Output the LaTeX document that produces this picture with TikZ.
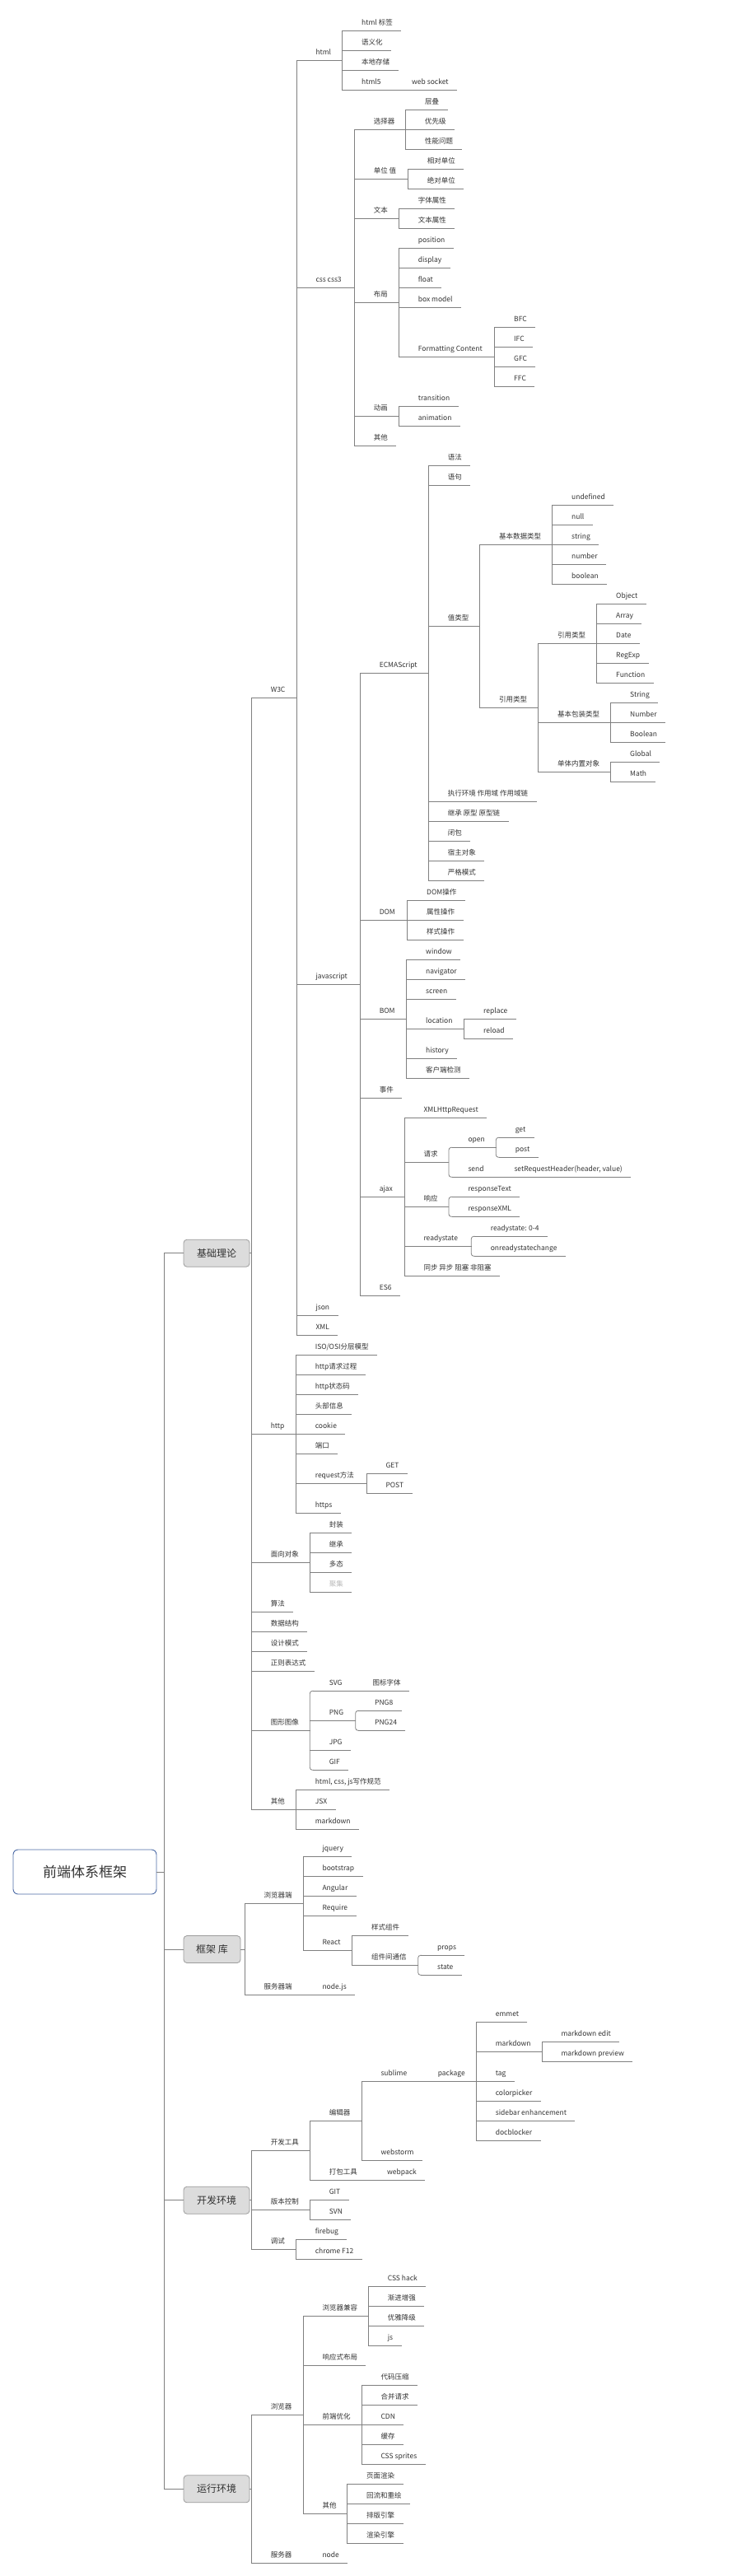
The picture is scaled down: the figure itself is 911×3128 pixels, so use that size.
\documentclass[tikz,border=0pt]{standalone}
\usepackage{fontspec}
\setmainfont{Noto Sans CJK SC}
\usetikzlibrary{calc}
\definecolor{txt}{HTML}{333333}
\definecolor{lc}{HTML}{808080}
\definecolor{boxf}{HTML}{DCDCDC}
\definecolor{boxd}{HTML}{9C9C9C}
\definecolor{rootd}{HTML}{4A69A5}
\definecolor{pale}{HTML}{BBBBBB}

% leaves on one bus: [shift of line start]{bus x}{y/name/text,...}
\newcommand\kids[3][0pt]{\foreach \yy/\nm/\lbl in {#3}{%
    \node[mm] (\nm) at (#2,\yy) {\lbl};
    \draw[ln] ([xshift=#1]\nm.south west) -- (\nm.south east);}}
\newcommand\joinup[3][0pt]{\draw[ln] ([xshift=#1]#2.south west) -- (#2.south west -| #3.south west);}
\newcommand\bus[2]{\draw[ln] (#1.south west) -- (#2.south west);}
\newcommand\rbus[2]{\draw[ln, rounded corners=3pt] ([xshift=4pt]#1.south west) -- (#1.south west) -- (#2.south west) -- ([xshift=4pt]#2.south west);}

\begin{document}
\begin{tikzpicture}[x=1pt,y=-1pt,
    mm/.style={anchor=south west, inner sep=0pt, outer sep=0pt, text=txt,
      font=\fontsize{8.5pt}{10pt}\selectfont, text height=7pt, text depth=6.5pt,
      execute at begin node={\hspace*{23.5pt}}, execute at end node={\hspace*{10pt}}},
    ln/.style={draw=lc, line width=0.8pt, line cap=rect},
    lvone/.style={draw=boxd, fill=boxf, rounded corners=4pt, line width=0.8pt, text=txt,
      minimum width=80pt, minimum height=33pt, inner sep=0pt, font=\fontsize{12pt}{14pt}\selectfont},
    rootbox/.style={draw=rootd, fill=white, rounded corners=6pt, line width=0.9pt, text=txt,
      minimum width=174pt, minimum height=54pt, font=\fontsize{17pt}{20pt}\selectfont}]
  \fill[white] (0,0) rectangle (911,3128);
  \useasboundingbox (0,0) rectangle (911,3128);

  % root and first level
  \node[rootbox] (root) at (103,2273) {前端体系框架};
  \node[lvone] (jc) at (263,1521.7) {基础理论};
  \node[lvone, minimum width=69pt] (kj) at (257.5,2367) {框架 库};
  \node[lvone] (kf) at (263,2671.7) {开发环境};
  \node[lvone] (ky) at (263,3022.3) {运行环境};
  \coordinate (tr) at (199.3,2273);
  \draw[ln] (root.east) -- (tr);
  \draw[ln] (jc.west -| tr) -- (ky.west -| tr);
  \foreach \b in {jc,kj,kf,ky} {\draw[ln] (\b.west -| tr) -- (\b.west);}

  % ---- 基础理论 / W3C
  \node[mm] (w3c) at (305.3,847.3) {W3C};
  \node[mm] (html) at (360,73.3) {html};
  \kids{415.7}{37.3/htag/html 标签, 61.3/sem/语义化, 85.3/store/本地存储}
  \node[mm] (h5) at (415.7,109.3) {html5};
  \kids{476.7}{109.3/wsock/web socket}
  \joinup{h5}{wsock} \joinup{html}{htag} \bus{htag}{h5}

  \node[mm] (css) at (360,349.3) {css css3};
  \node[mm] (sel) at (430.3,157.3) {选择器};
  \kids{492.7}{133.3/cascade/层叠, 157.3/prio/优先级, 181.3/perf/性能问题}
  \joinup{sel}{cascade} \bus{cascade}{perf}
  \node[mm] (unit) at (430.3,217.3) {单位 值};
  \kids{495.3}{205.3/rel/相对单位, 229.3/absu/绝对单位}
  \joinup{unit}{rel} \bus{rel}{absu}
  \node[mm] (wb) at (430.3,265.3) {文本};
  \kids{484.3}{253.3/fnt/字体属性, 277.3/tprop/文本属性}
  \joinup{wb}{fnt} \bus{fnt}{tprop}
  \node[mm] (lay) at (430.3,367.3) {布局};
  \kids{484.3}{301.3/pos/position, 325.3/disp/display, 349.3/flt/float, 373.3/boxm/box model}
  \node[mm] (fc) at (484.3,433.3) {Formatting Content};
  \kids{600.7}{397.3/bfc/BFC, 421.3/ifc/IFC, 445.3/gfc/GFC, 469.3/ffc/FFC}
  \joinup{fc}{bfc} \bus{bfc}{ffc}
  \joinup{lay}{pos} \bus{pos}{fc}
  \node[mm] (anim) at (430.3,505.3) {动画};
  \kids{484.3}{493.3/trans/transition, 517.3/ani/animation}
  \joinup{anim}{trans} \bus{trans}{ani}
  \kids{430.3}{541.3/cssoth/其他}
  \joinup{css}{sel} \bus{sel}{cssoth}

  \node[mm] (js) at (360,1195.3) {javascript};
  \node[mm] (ecma) at (437.3,817.3) {ECMAScript};
  \kids{520.3}{565.3/gram/语法, 589.3/stmt/语句}
  \node[mm] (valt) at (520.3,760.3) {值类型};
  \node[mm] (prim) at (582.7,661) {基本数据类型};
  \kids{670.7}{613.3/undef/undefined, 637.3/nul/null, 661.3/str/string, 685.3/num/number, 709.3/bool/boolean}
  \joinup{prim}{undef} \bus{undef}{bool}
  \node[mm] (reft) at (582.7,859) {引用类型};
  \node[mm] (refi) at (653.7,781.3) {引用类型};
  \kids{724.7}{733.3/obj/Object, 757.3/arr/Array, 781.3/date/Date, 805.3/regx/RegExp, 829.3/func/Function}
  \joinup{refi}{obj} \bus{obj}{func}
  \node[mm] (wrap) at (653.7,877) {基本包装类型};
  \kids{741.7}{853.3/strw/String, 877.3/numw/Number, 901.3/boolw/Boolean}
  \joinup{wrap}{strw} \bus{strw}{boolw}
  \node[mm] (single) at (653.7,937.3) {单体内置对象};
  \kids{741.7}{925.3/glob/Global, 949.3/math/Math}
  \joinup{single}{glob} \bus{glob}{math}
  \joinup{reft}{refi} \bus{refi}{single}
  \joinup{valt}{prim} \bus{prim}{reft}
  \kids{520.3}{973.3/scope/执行环境 作用域 作用域链, 997.3/proto/继承 原型 原型链, 1021.3/clos/闭包, 1045.3/host/宿主对象, 1069.3/strict/严格模式}
  \joinup{ecma}{gram} \bus{gram}{strict}

  \node[mm] (dom) at (437.3,1117.3) {DOM};
  \kids{494.7}{1093.3/domop/DOM操作, 1117.3/attr/属性操作, 1141.3/sty/样式操作}
  \joinup{dom}{domop} \bus{domop}{sty}
  \node[mm] (bom) at (437.3,1237.3) {BOM};
  \kids{493.7}{1165.3/win/window, 1189.3/nav/navigator, 1213.3/scr/screen}
  \node[mm] (loc) at (493.7,1249.3) {location};
  \kids{563.7}{1237.3/repl/replace, 1261.3/reld/reload}
  \joinup{loc}{repl} \bus{repl}{reld}
  \kids{493.7}{1285.3/hist/history, 1309.3/client/客户端检测}
  \joinup{bom}{win} \bus{win}{client}
  \kids{437.3}{1333.3/evt/事件}

  \node[mm] (ajax) at (437.3,1453.3) {ajax};
  \kids{491}{1357.3/xhr/XMLHttpRequest}
  \node[mm] (req) at (491,1411.3) {请求};
  \node[mm] (open) at (545,1393.3) {open};
  \kids[4pt]{602.3}{1381.3/get/get, 1405.3/post/post}
  \rbus{get}{post} \joinup[4pt]{open}{get}
  \node[mm] (send) at (545,1429.3) {send};
  \node[mm] (srh) at (601,1429.3) {setRequestHeader(header, value)};
  \draw[ln] (srh.south west) -- (srh.south east);
  \joinup[4pt]{send}{srh}
  \rbus{open}{send} \joinup{req}{open}
  \node[mm] (resp) at (491,1465.3) {响应};
  \kids[4pt]{545}{1453.3/rtext/responseText, 1477.3/rxml/responseXML}
  \rbus{rtext}{rxml} \joinup{resp}{rtext}
  \node[mm] (rs) at (491,1513.3) {readystate};
  \kids[4pt]{572.3}{1501.3/rsn/readystate: 0-4, 1525.3/orsc/onreadystatechange}
  \rbus{rsn}{orsc} \joinup{rs}{rsn}
  \kids{491}{1549.3/sync/同步 异步 阻塞 非阻塞}
  \joinup{ajax}{xhr} \bus{xhr}{sync}
  \kids{437.3}{1573.3/es6/ES6}
  \joinup{js}{ecma} \bus{ecma}{es6}

  \kids{360}{1597.3/json/json, 1621.3/xml/XML}
  \joinup{w3c}{html} \bus{html}{xml}

  % ---- 基础理论 / http and the rest
  \node[mm] (http) at (305.3,1741.3) {http};
  \node[mm] (iso) at (359.3,1645.3) {ISO/OSI分层模型};
  \draw[ln] (iso.south west) -- (iso.south east);
  \kids{359.3}{1669.3/hreq/http请求过程, 1693.3/hcode/http状态码, 1717.3/head/头部信息, 1741.3/cook/cookie, 1765.3/port/端口}
  \node[mm] (rmeth) at (359.3,1801.3) {request方法};
  \kids{445}{1789.3/hget/GET, 1813.3/hpost/POST}
  \joinup{rmeth}{hget} \bus{hget}{hpost}
  \kids{359.3}{1837.3/https/https}
  \joinup{http}{iso} \bus{iso}{https}

  \node[mm] (oop) at (305.3,1897.3) {面向对象};
  \kids{376.3}{1861.3/enc/封装, 1885.3/inh/继承, 1909.3/poly/多态}
  \node[mm, text=pale] (agg) at (376.3,1933.3) {聚集};
  \draw[ln] (agg.south west) -- (agg.south east);
  \joinup{oop}{enc} \bus{enc}{agg}
  \kids{305.3}{1957.3/algo/算法, 1981.3/dstr/数据结构, 2005.3/dpat/设计模式, 2029.3/regex/正则表达式}

  \node[mm] (gfx) at (305.3,2101.3) {图形图像};
  \node[mm] (svg) at (376.3,2053.3) {SVG};
  \kids{429}{2053.3/ifont/图标字体}
  \joinup[4pt]{svg}{ifont}
  \node[mm] (png) at (376.3,2089.3) {PNG};
  \kids[4pt]{431.7}{2077.3/pnga/PNG8, 2101.3/pngb/PNG24}
  \rbus{pnga}{pngb} \joinup{png}{pnga}
  \kids{376.3}{2125.3/jpg/JPG}
  \kids[4pt]{376.3}{2149.3/gif/GIF}
  \rbus{svg}{gif} \joinup{gfx}{svg}

  \node[mm] (oth) at (305.3,2197.3) {其他};
  \node[mm] (spec) at (359.3,2173.3) {html, css, js写作规范};
  \draw[ln] (spec.south west) -- (spec.south east);
  \kids{359.3}{2197.3/jsx/JSX, 2221.3/mdn/markdown}
  \joinup{oth}{spec} \bus{spec}{mdn}
  \draw[ln] (jc.east) -- (jc.east -| w3c.south west); \bus{w3c}{oth}

  % ---- 框架 库
  \node[mm] (bws) at (297,2311.3) {浏览器端};
  \kids{368}{2254.3/jq/jquery, 2278.3/bs/bootstrap, 2302.3/ng/Angular, 2326.3/rq/Require}
  \node[mm] (react) at (368,2368.3) {React};
  \kids{427.7}{2350.3/scomp/样式组件}
  \node[mm] (comm) at (427.7,2386.3) {组件间通信};
  \kids[4pt]{507.7}{2374.3/props/props, 2398.3/state/state}
  \rbus{props}{state} \joinup{comm}{props}
  \joinup{react}{scomp} \bus{scomp}{comm}
  \joinup{bws}{jq} \bus{jq}{react}
  \node[mm] (svs) at (297,2422.3) {服务器端};
  \kids{368}{2422.3/nodejs/node.js}
  \joinup{svs}{nodejs}
  \draw[ln] (kj.east) -- (kj.east -| bws.south west); \bus{bws}{svs}

  % ---- 开发环境
  \node[mm] (dtool) at (305.3,2611.3) {开发工具};
  \node[mm] (edit) at (376.3,2575.3) {编辑器};
  \node[mm] (subl) at (439,2527.3) {sublime};
  \node[mm] (pkg) at (508.3,2527.3) {package};
  \kids{578.3}{2455.3/emmet/emmet}
  \node[mm] (mdp) at (578.3,2491.3) {markdown};
  \kids{658}{2479.3/mde/markdown edit, 2503.3/mdv/markdown preview}
  \joinup{mdp}{mde} \bus{mde}{mdv}
  \kids{578.3}{2527.3/tag/tag, 2551.3/cpick/colorpicker, 2575.3/sbe/sidebar enhancement, 2599.3/docb/docblocker}
  \joinup{pkg}{emmet} \bus{emmet}{docb}
  \joinup{subl}{pkg}
  \kids{439}{2623.3/wstorm/webstorm}
  \joinup{edit}{subl} \bus{subl}{wstorm}
  \node[mm] (pack) at (376.3,2647.3) {打包工具};
  \kids{446.7}{2647.3/wpack/webpack}
  \joinup{pack}{wpack}
  \joinup{dtool}{edit} \bus{edit}{pack}
  \node[mm] (vcs) at (305.3,2683.3) {版本控制};
  \kids{376.3}{2671.3/git/GIT, 2695.3/svn/SVN}
  \joinup{vcs}{git} \bus{git}{svn}
  \node[mm] (dbg) at (305.3,2731.3) {调试};
  \kids{359.3}{2719.3/fbug/firebug, 2743.3/ftwelve/chrome F12}
  \joinup{dbg}{fbug} \bus{fbug}{ftwelve}
  \draw[ln] (kf.east) -- (kf.east -| dtool.south west); \bus{dtool}{dbg}

  % ---- 运行环境
  \node[mm] (brw) at (305.3,2932.3) {浏览器};
  \node[mm] (compat) at (368,2812.3) {浏览器兼容};
  \kids{447.3}{2776.3/hack/CSS hack, 2800.3/prog/渐进增强, 2824.3/grace/优雅降级, 2848.3/jsc/js}
  \joinup{compat}{hack} \bus{hack}{jsc}
  \kids{368}{2872.3/rwd/响应式布局}
  \node[mm] (opt) at (368,2944.3) {前端优化};
  \kids{439}{2896.3/minify/代码压缩, 2920.3/merge/合并请求, 2944.3/cdn/CDN, 2968.3/cache/缓存, 2992.3/sprite/CSS sprites}
  \joinup{opt}{minify} \bus{minify}{sprite}
  \node[mm] (roth) at (368,3052.3) {其他};
  \kids{421.7}{3016.3/render/页面渲染, 3040.3/reflow/回流和重绘, 3064.3/typeset/排版引擎, 3088.3/reng/渲染引擎}
  \joinup{roth}{render} \bus{render}{reng}
  \joinup{brw}{compat} \bus{compat}{roth}
  \node[mm] (srv) at (305.3,3112.3) {服务器};
  \kids{368}{3112.3/nd/node}
  \joinup{srv}{nd}
  \draw[ln] (ky.east) -- (ky.east -| brw.south west); \bus{brw}{srv}
\end{tikzpicture}
\end{document}
